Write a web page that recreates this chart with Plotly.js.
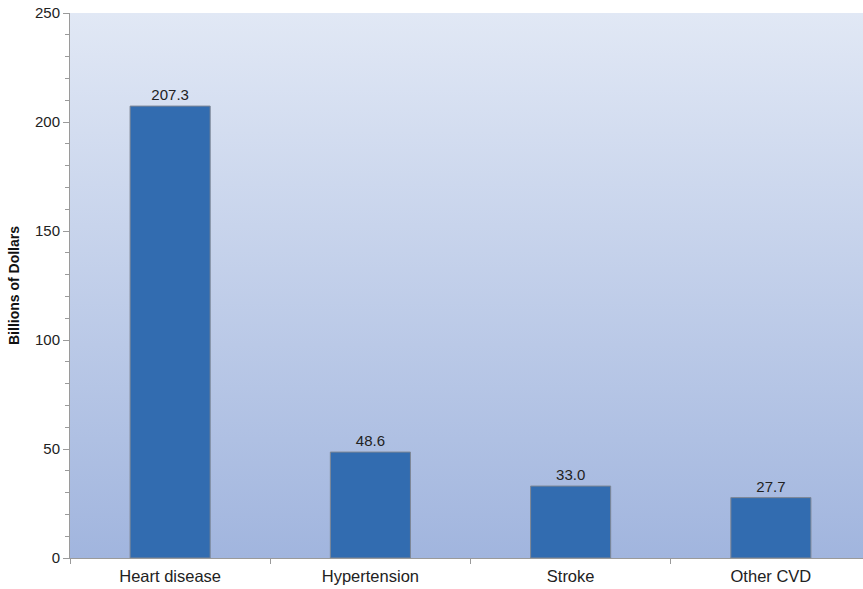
<!DOCTYPE html>
<html>
<head>
<meta charset="utf-8">
<script src="https://cdn.plot.ly/plotly-3.0.1.min.js"></script>
<style>html,body{margin:0;padding:0;background:#fff;}#chart{width:863px;height:589px;}</style>
</head>
<body>
<div id="chart"></div>
<script>
var categories = ["Heart disease", "Hypertension", "Stroke", "Other CVD"];
var values = [207.3, 48.6, 33.0, 27.7];
var valueLabels = ["207.3", "48.6", "33.0", "27.7"];

var bgSvg = '<svg xmlns="http://www.w3.org/2000/svg" width="100" height="100" preserveAspectRatio="none">' +
  '<defs><linearGradient id="g" x1="0" y1="0" x2="0" y2="1">' +
  '<stop offset="0" stop-color="#e1e8f5"/><stop offset="1" stop-color="#a1b5de"/>' +
  '</linearGradient></defs><rect width="100" height="100" fill="url(#g)"/></svg>';
var bgUri = 'data:image/svg+xml;base64,' + btoa(bgSvg);

var trace = {
  type: 'bar',
  x: categories,
  y: values,
  text: valueLabels,
  textposition: 'outside',
  textfont: {family: 'Liberation Sans, Arial, sans-serif', size: 15, color: '#222'},
  cliponaxis: false,
  marker: {color: '#326cb0', line: {color: '#7f8794', width: 1}},
  width: 0.4,
  hoverinfo: 'none'
};

var layout = {
  width: 863, height: 589,
  margin: {l: 70, r: 0, t: 13, b: 31},
  paper_bgcolor: '#ffffff',
  plot_bgcolor: 'rgba(0,0,0,0)',
  font: {family: 'Liberation Sans, Arial, sans-serif', size: 14, color: '#222'},
  showlegend: false,
  bargap: 0.6,
  images: [{source: bgUri, xref: 'paper', yref: 'paper', x: 0, y: 1, sizex: 1, sizey: 1,
            sizing: 'stretch', xanchor: 'left', yanchor: 'top', layer: 'below'}],
  xaxis: {
    type: 'category',
    range: [-0.5, 3.46],
    showgrid: false, zeroline: false,
    showline: true, linecolor: '#9a9a9a', linewidth: 1,
    ticks: 'outside', tickson: 'boundaries', ticklen: 5, tickcolor: '#9a9a9a',
    ticklabelstandoff: 3,
    tickfont: {size: 16.5, color: '#222'}
  },
  yaxis: {
    range: [0, 250], dtick: 50,
    showgrid: false, zeroline: false,
    showline: true, linecolor: '#9a9a9a', linewidth: 1,
    ticks: 'outside', ticklen: 6, tickcolor: '#9a9a9a',
    minor: {dtick: 10, ticks: 'outside', ticklen: 4, tickcolor: '#9a9a9a'},
    tickfont: {size: 15, color: '#222'},
    title: {text: '<b>Billions of Dollars</b>', font: {size: 14, color: '#111'}, standoff: 12}
  }
};

Plotly.newPlot('chart', [trace], layout, {displayModeBar: false, staticPlot: true});
</script>
</body>
</html>
